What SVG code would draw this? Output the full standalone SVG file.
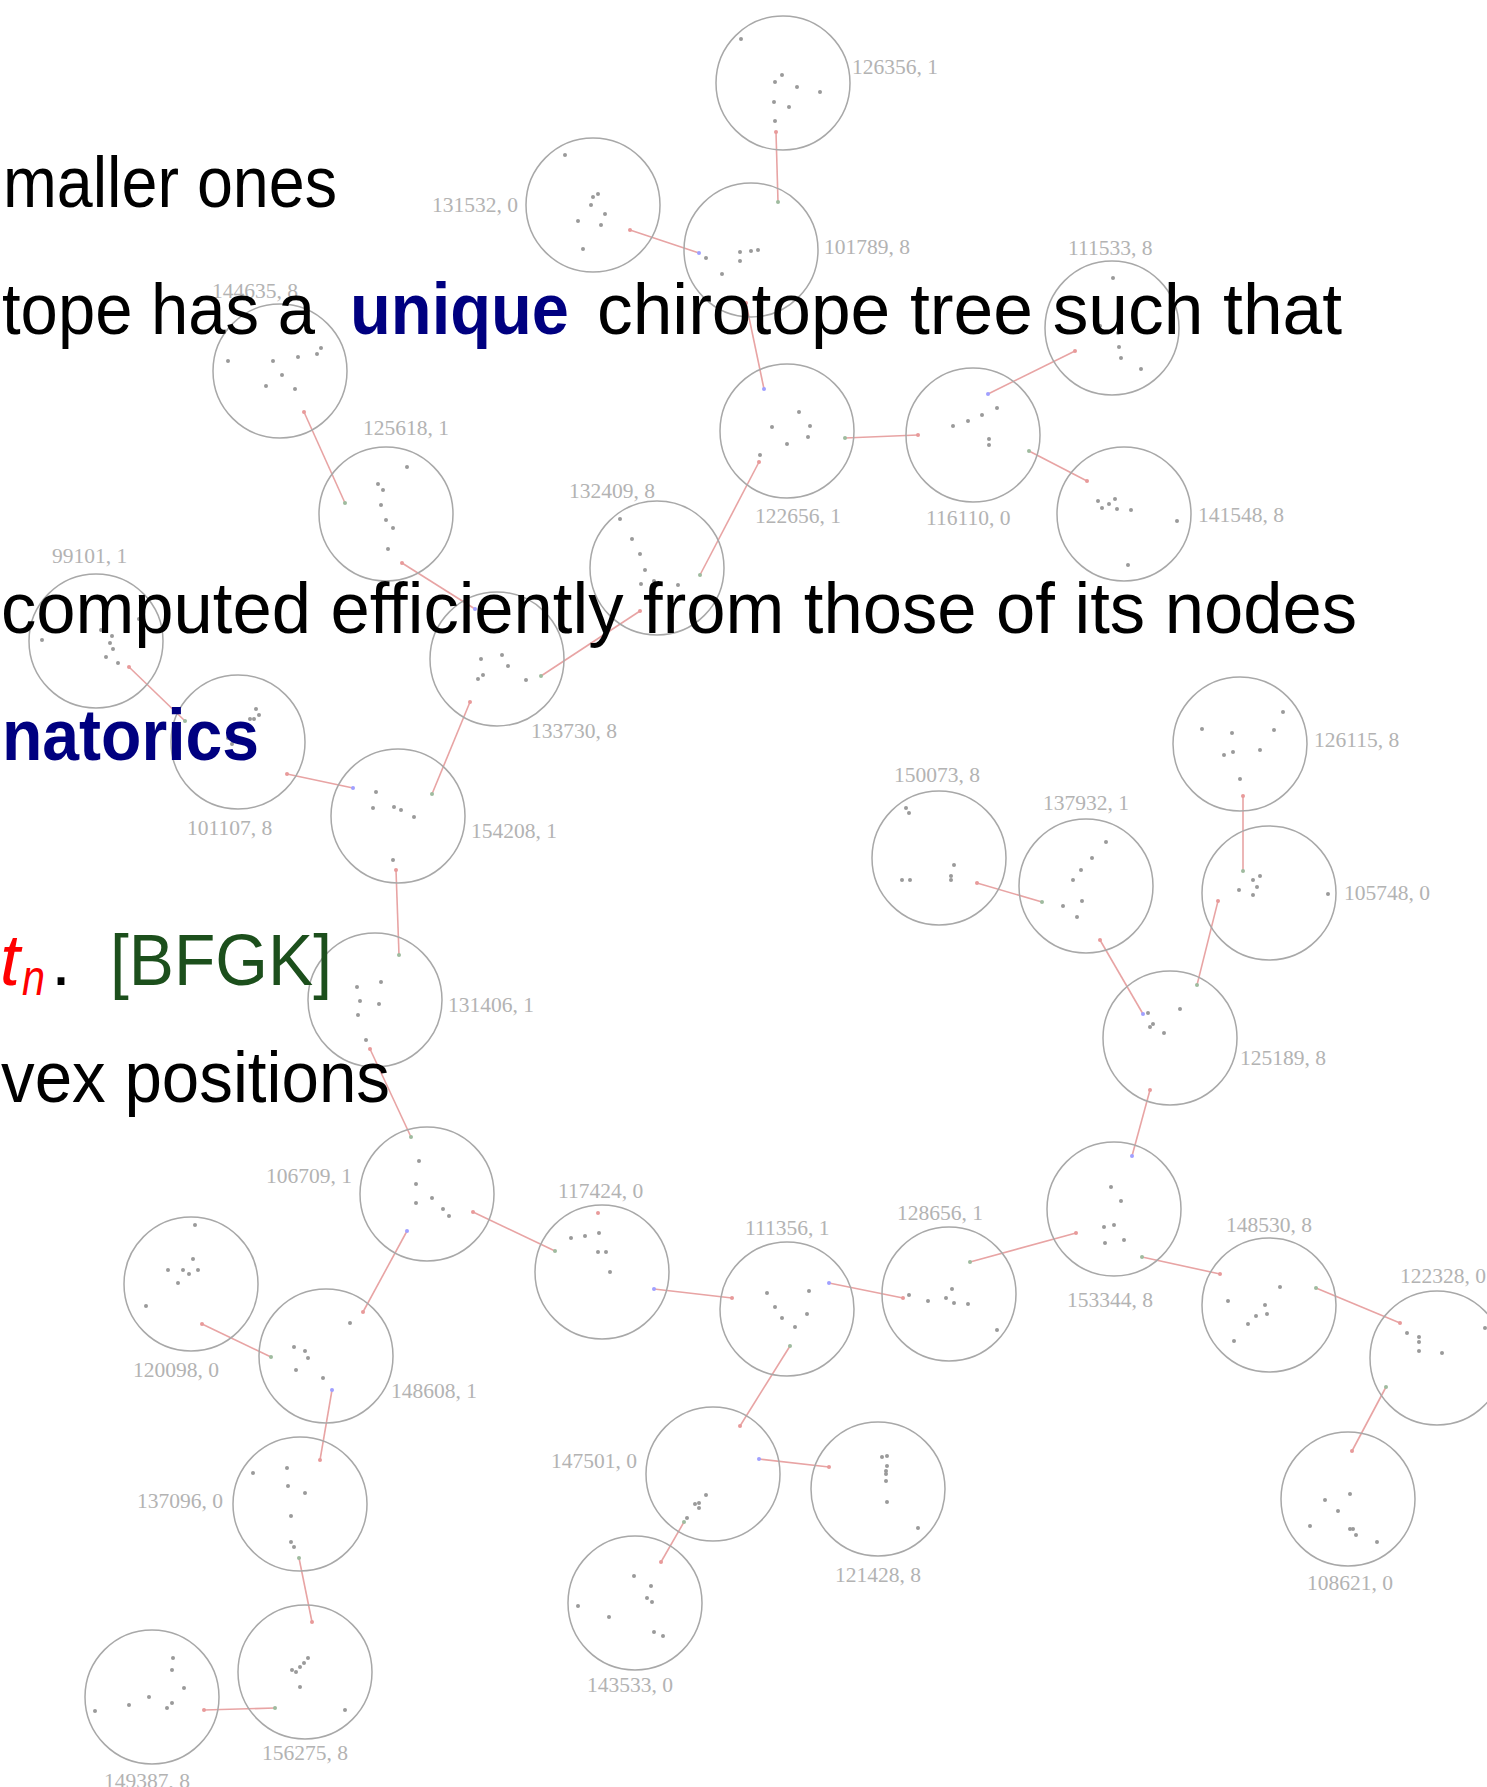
<svg xmlns="http://www.w3.org/2000/svg" width="1487" height="1787" viewBox="0 0 1487 1787">
<style>
.c{fill:none;stroke:#a8a8a8;stroke-width:1.5}
.d{fill:#9a9a9a}
.r{fill:#e89a9a}
.g{fill:#9fbb9f}
.b{fill:#a0a0ff}
.l{font-family:"Liberation Serif",serif;font-size:21.5px;fill:#b3b3b3}
.e line{stroke:#e8a4a4;stroke-width:1.6}
.t{font-family:"Liberation Sans",Arial,sans-serif;font-size:72px;fill:#000}
.bb{font-weight:bold;fill:#000080}
</style>
<rect width="1487" height="1787" fill="#fff"/>
<g id="connectors" class="e">
<line x1="776" y1="132" x2="778" y2="202"/>
<line x1="630" y1="230" x2="699" y2="253"/>
<line x1="746" y1="303" x2="764" y2="389"/>
<line x1="845" y1="438" x2="918" y2="435"/>
<line x1="988" y1="394" x2="1075" y2="351"/>
<line x1="1029" y1="451" x2="1087" y2="481"/>
<line x1="759" y1="462" x2="700" y2="575"/>
<line x1="640" y1="611" x2="541" y2="676"/>
<line x1="475" y1="609" x2="402" y2="563"/>
<line x1="345" y1="503" x2="304" y2="412"/>
<line x1="470" y1="702" x2="432" y2="794"/>
<line x1="353" y1="788" x2="287" y2="774"/>
<line x1="185" y1="721" x2="129" y2="667"/>
<line x1="396" y1="870" x2="399" y2="955"/>
<line x1="370" y1="1049" x2="411" y2="1137"/>
<line x1="473" y1="1212" x2="555" y2="1251"/>
<line x1="407" y1="1231" x2="363" y2="1312"/>
<line x1="271" y1="1357" x2="202" y2="1324"/>
<line x1="332" y1="1390" x2="320" y2="1460"/>
<line x1="299" y1="1558" x2="312" y2="1622"/>
<line x1="275" y1="1708" x2="204" y2="1710"/>
<line x1="654" y1="1289" x2="732" y2="1298"/>
<line x1="829" y1="1283" x2="903" y2="1298"/>
<line x1="790" y1="1346" x2="740" y2="1426"/>
<line x1="759" y1="1459" x2="829" y2="1467"/>
<line x1="684" y1="1522" x2="661" y2="1562"/>
<line x1="970" y1="1262" x2="1076" y2="1233"/>
<line x1="1132" y1="1156" x2="1150" y2="1090"/>
<line x1="1142" y1="1257" x2="1220" y2="1274"/>
<line x1="1316" y1="1288" x2="1400" y2="1323"/>
<line x1="1386" y1="1387" x2="1352" y2="1451"/>
<line x1="1143" y1="1014" x2="1100" y2="940"/>
<line x1="1197" y1="985" x2="1218" y2="901"/>
<line x1="1243" y1="871" x2="1243" y2="796"/>
<line x1="1042" y1="902" x2="977" y2="883"/>
</g>
<g id="n126356"><circle class="c" cx="783" cy="83" r="67"/><text class="l" x="852" y="74">126356, 1</text>
<circle class="d" cx="741" cy="39" r="2"/><circle class="d" cx="782" cy="75" r="2"/><circle class="d" cx="775" cy="82" r="2"/><circle class="d" cx="797" cy="87" r="2"/><circle class="d" cx="820" cy="92" r="2"/><circle class="d" cx="774" cy="102" r="2"/><circle class="d" cx="789" cy="107" r="2"/><circle class="d" cx="775" cy="121" r="2"/><circle class="r" cx="776" cy="132" r="2"/></g>
<g id="n101789"><circle class="c" cx="751" cy="250" r="67"/><text class="l" x="824" y="254">101789, 8</text>
<circle class="d" cx="706" cy="258" r="2"/><circle class="d" cx="740" cy="252" r="2"/><circle class="d" cx="751" cy="251" r="2"/><circle class="d" cx="758" cy="250" r="2"/><circle class="d" cx="740" cy="261" r="2"/><circle class="d" cx="722" cy="274" r="2"/><circle class="g" cx="778" cy="202" r="2"/><circle class="b" cx="699" cy="253" r="2"/><circle class="r" cx="746" cy="303" r="2"/></g>
<g id="n131532"><circle class="c" cx="593" cy="205" r="67"/><text class="l" x="518" y="212" text-anchor="end">131532, 0</text>
<circle class="d" cx="565" cy="155" r="2"/><circle class="d" cx="593" cy="197" r="2"/><circle class="d" cx="598" cy="194" r="2"/><circle class="d" cx="591" cy="205" r="2"/><circle class="d" cx="605" cy="214" r="2"/><circle class="d" cx="578" cy="221" r="2"/><circle class="d" cx="601" cy="225" r="2"/><circle class="d" cx="583" cy="249" r="2"/><circle class="r" cx="630" cy="230" r="2"/></g>
<g id="n111533"><circle class="c" cx="1112" cy="328" r="67"/><text class="l" x="1068" y="255">111533, 8</text>
<circle class="d" cx="1113" cy="278" r="2"/><circle class="d" cx="1100" cy="326" r="2"/><circle class="d" cx="1118" cy="333" r="2"/><circle class="d" cx="1119" cy="347" r="2"/><circle class="d" cx="1121" cy="358" r="2"/><circle class="d" cx="1141" cy="369" r="2"/><circle class="r" cx="1075" cy="351" r="2"/></g>
<g id="n144635"><circle class="c" cx="280" cy="371" r="67"/><text class="l" x="212" y="298">144635, 8</text>
<circle class="d" cx="228" cy="361" r="2"/><circle class="d" cx="273" cy="361" r="2"/><circle class="d" cx="298" cy="357" r="2"/><circle class="d" cx="317" cy="354" r="2"/><circle class="d" cx="321" cy="348" r="2"/><circle class="d" cx="282" cy="375" r="2"/><circle class="d" cx="266" cy="386" r="2"/><circle class="d" cx="295" cy="389" r="2"/><circle class="r" cx="304" cy="412" r="2"/></g>
<g id="n125618"><circle class="c" cx="386" cy="514" r="67"/><text class="l" x="363" y="435">125618, 1</text>
<circle class="d" cx="407" cy="467" r="2"/><circle class="d" cx="378" cy="484" r="2"/><circle class="d" cx="383" cy="490" r="2"/><circle class="d" cx="381" cy="505" r="2"/><circle class="d" cx="386" cy="520" r="2"/><circle class="d" cx="393" cy="528" r="2"/><circle class="d" cx="388" cy="549" r="2"/><circle class="g" cx="345" cy="503" r="2"/><circle class="r" cx="402" cy="563" r="2"/></g>
<g id="n99101"><circle class="c" cx="96" cy="641" r="67"/><text class="l" x="52" y="563">99101, 1</text>
<circle class="d" cx="42" cy="640" r="2"/><circle class="d" cx="101" cy="630" r="2"/><circle class="d" cx="112" cy="636" r="2"/><circle class="d" cx="139" cy="619" r="2"/><circle class="d" cx="110" cy="643" r="2"/><circle class="d" cx="113" cy="649" r="2"/><circle class="d" cx="106" cy="657" r="2"/><circle class="d" cx="118" cy="663" r="2"/><circle class="r" cx="129" cy="667" r="2"/></g>
<g id="n101107"><circle class="c" cx="238" cy="742" r="67"/><text class="l" x="187" y="835">101107, 8</text>
<circle class="d" cx="256" cy="709" r="2"/><circle class="d" cx="259" cy="715" r="2"/><circle class="d" cx="250" cy="719" r="2"/><circle class="d" cx="254" cy="719" r="2"/><circle class="d" cx="235" cy="726" r="2"/><circle class="d" cx="228" cy="738" r="2"/><circle class="d" cx="232" cy="744" r="2"/><circle class="g" cx="185" cy="721" r="2"/><circle class="r" cx="287" cy="774" r="2"/></g>
<g id="n154208"><circle class="c" cx="398" cy="816" r="67"/><text class="l" x="471" y="838">154208, 1</text>
<circle class="d" cx="376" cy="792" r="2"/><circle class="d" cx="373" cy="808" r="2"/><circle class="d" cx="394" cy="807" r="2"/><circle class="d" cx="401" cy="810" r="2"/><circle class="d" cx="414" cy="817" r="2"/><circle class="d" cx="393" cy="860" r="2"/><circle class="b" cx="353" cy="788" r="2"/><circle class="g" cx="432" cy="794" r="2"/><circle class="r" cx="396" cy="870" r="2"/></g>
<g id="n133730"><circle class="c" cx="497" cy="659" r="67"/><text class="l" x="531" y="738">133730, 8</text>
<circle class="d" cx="481" cy="659" r="2"/><circle class="d" cx="483" cy="675" r="2"/><circle class="d" cx="478" cy="679" r="2"/><circle class="d" cx="502" cy="655" r="2"/><circle class="d" cx="508" cy="666" r="2"/><circle class="d" cx="526" cy="680" r="2"/><circle class="b" cx="475" cy="609" r="2"/><circle class="r" cx="470" cy="702" r="2"/><circle class="g" cx="541" cy="676" r="2"/></g>
<g id="n132409"><circle class="c" cx="657" cy="568" r="67"/><text class="l" x="569" y="498">132409, 8</text>
<circle class="d" cx="620" cy="519" r="2"/><circle class="d" cx="632" cy="539" r="2"/><circle class="d" cx="640" cy="554" r="2"/><circle class="d" cx="645" cy="570" r="2"/><circle class="d" cx="641" cy="584" r="2"/><circle class="d" cx="654" cy="581" r="2"/><circle class="d" cx="678" cy="585" r="2"/><circle class="g" cx="700" cy="575" r="2"/><circle class="r" cx="640" cy="611" r="2"/></g>
<g id="n122656"><circle class="c" cx="787" cy="431" r="67"/><text class="l" x="755" y="523">122656, 1</text>
<circle class="d" cx="799" cy="412" r="2"/><circle class="d" cx="772" cy="427" r="2"/><circle class="d" cx="810" cy="426" r="2"/><circle class="d" cx="808" cy="437" r="2"/><circle class="d" cx="787" cy="444" r="2"/><circle class="d" cx="760" cy="455" r="2"/><circle class="b" cx="764" cy="389" r="2"/><circle class="g" cx="845" cy="438" r="2"/><circle class="r" cx="759" cy="462" r="2"/></g>
<g id="n116110"><circle class="c" cx="973" cy="435" r="67"/><text class="l" x="926" y="525">116110, 0</text>
<circle class="d" cx="982" cy="415" r="2"/><circle class="d" cx="968" cy="421" r="2"/><circle class="d" cx="953" cy="426" r="2"/><circle class="d" cx="989" cy="439" r="2"/><circle class="d" cx="989" cy="445" r="2"/><circle class="d" cx="997" cy="408" r="2"/><circle class="b" cx="988" cy="394" r="2"/><circle class="r" cx="918" cy="435" r="2"/><circle class="g" cx="1029" cy="451" r="2"/></g>
<g id="n141548"><circle class="c" cx="1124" cy="514" r="67"/><text class="l" x="1198" y="522">141548, 8</text>
<circle class="d" cx="1098" cy="501" r="2"/><circle class="d" cx="1102" cy="508" r="2"/><circle class="d" cx="1109" cy="504" r="2"/><circle class="d" cx="1115" cy="499" r="2"/><circle class="d" cx="1117" cy="509" r="2"/><circle class="d" cx="1131" cy="510" r="2"/><circle class="d" cx="1177" cy="521" r="2"/><circle class="d" cx="1128" cy="565" r="2"/><circle class="r" cx="1087" cy="481" r="2"/></g>
<g id="n126115"><circle class="c" cx="1240" cy="744" r="67"/><text class="l" x="1314" y="747">126115, 8</text>
<circle class="d" cx="1283" cy="712" r="2"/><circle class="d" cx="1202" cy="729" r="2"/><circle class="d" cx="1232" cy="733" r="2"/><circle class="d" cx="1274" cy="730" r="2"/><circle class="d" cx="1260" cy="750" r="2"/><circle class="d" cx="1224" cy="755" r="2"/><circle class="d" cx="1233" cy="752" r="2"/><circle class="d" cx="1240" cy="779" r="2"/><circle class="r" cx="1243" cy="796" r="2"/></g>
<g id="n105748"><circle class="c" cx="1269" cy="893" r="67"/><text class="l" x="1344" y="900">105748, 0</text>
<circle class="d" cx="1253" cy="880" r="2"/><circle class="d" cx="1260" cy="876" r="2"/><circle class="d" cx="1239" cy="890" r="2"/><circle class="d" cx="1257" cy="887" r="2"/><circle class="d" cx="1253" cy="895" r="2"/><circle class="d" cx="1328" cy="894" r="2"/><circle class="g" cx="1243" cy="871" r="2"/><circle class="r" cx="1218" cy="901" r="2"/></g>
<g id="n137932"><circle class="c" cx="1086" cy="886" r="67"/><text class="l" x="1043" y="810">137932, 1</text>
<circle class="d" cx="1106" cy="842" r="2"/><circle class="d" cx="1092" cy="858" r="2"/><circle class="d" cx="1081" cy="870" r="2"/><circle class="d" cx="1073" cy="880" r="2"/><circle class="d" cx="1082" cy="901" r="2"/><circle class="d" cx="1063" cy="906" r="2"/><circle class="d" cx="1077" cy="917" r="2"/><circle class="g" cx="1042" cy="902" r="2"/><circle class="r" cx="1100" cy="940" r="2"/></g>
<g id="n150073"><circle class="c" cx="939" cy="858" r="67"/><text class="l" x="894" y="782">150073, 8</text>
<circle class="d" cx="906" cy="808" r="2"/><circle class="d" cx="909" cy="813" r="2"/><circle class="d" cx="902" cy="880" r="2"/><circle class="d" cx="910" cy="880" r="2"/><circle class="d" cx="954" cy="865" r="2"/><circle class="d" cx="951" cy="876" r="2"/><circle class="d" cx="951" cy="880" r="2"/><circle class="r" cx="977" cy="883" r="2"/></g>
<g id="n125189"><circle class="c" cx="1170" cy="1038" r="67"/><text class="l" x="1240" y="1065">125189, 8</text>
<circle class="d" cx="1148" cy="1013" r="2"/><circle class="d" cx="1180" cy="1009" r="2"/><circle class="d" cx="1150" cy="1027" r="2"/><circle class="d" cx="1153" cy="1024" r="2"/><circle class="d" cx="1164" cy="1033" r="2"/><circle class="b" cx="1143" cy="1014" r="2"/><circle class="g" cx="1197" cy="985" r="2"/><circle class="r" cx="1150" cy="1090" r="2"/></g>
<g id="n153344"><circle class="c" cx="1114" cy="1209" r="67"/><text class="l" x="1067" y="1307">153344, 8</text>
<circle class="d" cx="1111" cy="1187" r="2"/><circle class="d" cx="1121" cy="1201" r="2"/><circle class="d" cx="1104" cy="1227" r="2"/><circle class="d" cx="1114" cy="1225" r="2"/><circle class="d" cx="1105" cy="1243" r="2"/><circle class="d" cx="1124" cy="1240" r="2"/><circle class="b" cx="1132" cy="1156" r="2"/><circle class="r" cx="1076" cy="1233" r="2"/><circle class="g" cx="1142" cy="1257" r="2"/></g>
<g id="n148530"><circle class="c" cx="1269" cy="1305" r="67"/><text class="l" x="1226" y="1232">148530, 8</text>
<circle class="d" cx="1280" cy="1287" r="2"/><circle class="d" cx="1228" cy="1301" r="2"/><circle class="d" cx="1265" cy="1305" r="2"/><circle class="d" cx="1267" cy="1314" r="2"/><circle class="d" cx="1256" cy="1316" r="2"/><circle class="d" cx="1248" cy="1324" r="2"/><circle class="d" cx="1234" cy="1341" r="2"/><circle class="r" cx="1220" cy="1274" r="2"/><circle class="g" cx="1316" cy="1288" r="2"/></g>
<g id="n122328"><circle class="c" cx="1437" cy="1358" r="67"/><text class="l" x="1400" y="1283">122328, 0</text>
<circle class="d" cx="1407" cy="1333" r="2"/><circle class="d" cx="1419" cy="1337" r="2"/><circle class="d" cx="1419" cy="1342" r="2"/><circle class="d" cx="1419" cy="1351" r="2"/><circle class="d" cx="1442" cy="1353" r="2"/><circle class="d" cx="1485" cy="1328" r="2"/><circle class="r" cx="1400" cy="1323" r="2"/><circle class="g" cx="1386" cy="1387" r="2"/></g>
<g id="n108621"><circle class="c" cx="1348" cy="1499" r="67"/><text class="l" x="1307" y="1590">108621, 0</text>
<circle class="d" cx="1350" cy="1494" r="2"/><circle class="d" cx="1325" cy="1500" r="2"/><circle class="d" cx="1338" cy="1511" r="2"/><circle class="d" cx="1310" cy="1526" r="2"/><circle class="d" cx="1350" cy="1529" r="2"/><circle class="d" cx="1353" cy="1529" r="2"/><circle class="d" cx="1356" cy="1535" r="2"/><circle class="d" cx="1377" cy="1542" r="2"/><circle class="r" cx="1352" cy="1451" r="2"/></g>
<g id="n128656"><circle class="c" cx="949" cy="1294" r="67"/><text class="l" x="897" y="1220">128656, 1</text>
<circle class="d" cx="909" cy="1295" r="2"/><circle class="d" cx="928" cy="1301" r="2"/><circle class="d" cx="946" cy="1298" r="2"/><circle class="d" cx="952" cy="1289" r="2"/><circle class="d" cx="954" cy="1303" r="2"/><circle class="d" cx="968" cy="1304" r="2"/><circle class="d" cx="997" cy="1330" r="2"/><circle class="g" cx="970" cy="1262" r="2"/><circle class="r" cx="903" cy="1298" r="2"/></g>
<g id="n111356"><circle class="c" cx="787" cy="1309" r="67"/><text class="l" x="745" y="1235">111356, 1</text>
<circle class="d" cx="767" cy="1293" r="2"/><circle class="d" cx="809" cy="1291" r="2"/><circle class="d" cx="775" cy="1307" r="2"/><circle class="d" cx="782" cy="1318" r="2"/><circle class="d" cx="807" cy="1314" r="2"/><circle class="d" cx="795" cy="1327" r="2"/><circle class="b" cx="829" cy="1283" r="2"/><circle class="r" cx="732" cy="1298" r="2"/><circle class="g" cx="790" cy="1346" r="2"/></g>
<g id="n117424"><circle class="c" cx="602" cy="1272" r="67"/><text class="l" x="558" y="1198">117424, 0</text>
<circle class="d" cx="571" cy="1238" r="2"/><circle class="d" cx="585" cy="1236" r="2"/><circle class="d" cx="599" cy="1233" r="2"/><circle class="d" cx="598" cy="1252" r="2"/><circle class="d" cx="606" cy="1252" r="2"/><circle class="d" cx="610" cy="1272" r="2"/><circle class="r" cx="598" cy="1213" r="2"/><circle class="g" cx="555" cy="1251" r="2"/><circle class="b" cx="654" cy="1289" r="2"/></g>
<g id="n106709"><circle class="c" cx="427" cy="1194" r="67"/><text class="l" x="266" y="1183">106709, 1</text>
<circle class="d" cx="419" cy="1161" r="2"/><circle class="d" cx="416" cy="1184" r="2"/><circle class="d" cx="432" cy="1198" r="2"/><circle class="d" cx="416" cy="1203" r="2"/><circle class="d" cx="443" cy="1209" r="2"/><circle class="d" cx="449" cy="1216" r="2"/><circle class="g" cx="411" cy="1137" r="2"/><circle class="r" cx="473" cy="1212" r="2"/><circle class="b" cx="407" cy="1231" r="2"/></g>
<g id="n131406"><circle class="c" cx="375" cy="1000" r="67"/><text class="l" x="448" y="1012">131406, 1</text>
<circle class="d" cx="357" cy="987" r="2"/><circle class="d" cx="381" cy="982" r="2"/><circle class="d" cx="360" cy="1001" r="2"/><circle class="d" cx="379" cy="1004" r="2"/><circle class="d" cx="358" cy="1015" r="2"/><circle class="d" cx="325" cy="993" r="2"/><circle class="d" cx="366" cy="1040" r="2"/><circle class="g" cx="399" cy="955" r="2"/><circle class="r" cx="370" cy="1049" r="2"/></g>
<g id="n120098"><circle class="c" cx="191" cy="1284" r="67"/><text class="l" x="133" y="1377">120098, 0</text>
<circle class="d" cx="195" cy="1225" r="2"/><circle class="d" cx="193" cy="1259" r="2"/><circle class="d" cx="168" cy="1270" r="2"/><circle class="d" cx="183" cy="1270" r="2"/><circle class="d" cx="189" cy="1274" r="2"/><circle class="d" cx="198" cy="1270" r="2"/><circle class="d" cx="178" cy="1283" r="2"/><circle class="d" cx="146" cy="1306" r="2"/><circle class="r" cx="202" cy="1324" r="2"/></g>
<g id="n148608"><circle class="c" cx="326" cy="1356" r="67"/><text class="l" x="391" y="1398">148608, 1</text>
<circle class="d" cx="350" cy="1323" r="2"/><circle class="d" cx="294" cy="1347" r="2"/><circle class="d" cx="305" cy="1351" r="2"/><circle class="d" cx="308" cy="1358" r="2"/><circle class="d" cx="296" cy="1370" r="2"/><circle class="d" cx="323" cy="1378" r="2"/><circle class="r" cx="363" cy="1312" r="2"/><circle class="g" cx="271" cy="1357" r="2"/><circle class="b" cx="332" cy="1390" r="2"/></g>
<g id="n137096"><circle class="c" cx="300" cy="1504" r="67"/><text class="l" x="137" y="1508">137096, 0</text>
<circle class="d" cx="253" cy="1473" r="2"/><circle class="d" cx="287" cy="1468" r="2"/><circle class="d" cx="288" cy="1486" r="2"/><circle class="d" cx="305" cy="1493" r="2"/><circle class="d" cx="291" cy="1516" r="2"/><circle class="d" cx="291" cy="1542" r="2"/><circle class="d" cx="294" cy="1547" r="2"/><circle class="r" cx="320" cy="1460" r="2"/><circle class="g" cx="299" cy="1558" r="2"/></g>
<g id="n156275"><circle class="c" cx="305" cy="1672" r="67"/><text class="l" x="262" y="1760">156275, 8</text>
<circle class="d" cx="308" cy="1658" r="2"/><circle class="d" cx="304" cy="1663" r="2"/><circle class="d" cx="300" cy="1667" r="2"/><circle class="d" cx="292" cy="1670" r="2"/><circle class="d" cx="296" cy="1672" r="2"/><circle class="d" cx="300" cy="1687" r="2"/><circle class="d" cx="345" cy="1710" r="2"/><circle class="r" cx="312" cy="1622" r="2"/><circle class="g" cx="275" cy="1708" r="2"/></g>
<g id="n149387"><circle class="c" cx="152" cy="1697" r="67"/><text class="l" x="104" y="1788">149387, 8</text>
<circle class="d" cx="173" cy="1658" r="2"/><circle class="d" cx="172" cy="1670" r="2"/><circle class="d" cx="184" cy="1688" r="2"/><circle class="d" cx="149" cy="1697" r="2"/><circle class="d" cx="129" cy="1705" r="2"/><circle class="d" cx="172" cy="1703" r="2"/><circle class="d" cx="167" cy="1708" r="2"/><circle class="d" cx="95" cy="1711" r="2"/><circle class="r" cx="204" cy="1710" r="2"/></g>
<g id="n147501"><circle class="c" cx="713" cy="1474" r="67"/><text class="l" x="551" y="1468">147501, 0</text>
<circle class="d" cx="706" cy="1495" r="2"/><circle class="d" cx="695" cy="1504" r="2"/><circle class="d" cx="699" cy="1503" r="2"/><circle class="d" cx="699" cy="1508" r="2"/><circle class="d" cx="687" cy="1518" r="2"/><circle class="r" cx="740" cy="1426" r="2"/><circle class="b" cx="759" cy="1459" r="2"/><circle class="g" cx="684" cy="1522" r="2"/></g>
<g id="n121428"><circle class="c" cx="878" cy="1489" r="67"/><text class="l" x="835" y="1582">121428, 8</text>
<circle class="d" cx="882" cy="1457" r="2"/><circle class="d" cx="887" cy="1456" r="2"/><circle class="d" cx="887" cy="1466" r="2"/><circle class="d" cx="886" cy="1471" r="2"/><circle class="d" cx="886" cy="1474" r="2"/><circle class="d" cx="886" cy="1481" r="2"/><circle class="d" cx="887" cy="1502" r="2"/><circle class="d" cx="918" cy="1528" r="2"/><circle class="r" cx="829" cy="1467" r="2"/></g>
<g id="n143533"><circle class="c" cx="635" cy="1603" r="67"/><text class="l" x="587" y="1692">143533, 0</text>
<circle class="d" cx="634" cy="1576" r="2"/><circle class="d" cx="651" cy="1586" r="2"/><circle class="d" cx="647" cy="1598" r="2"/><circle class="d" cx="652" cy="1602" r="2"/><circle class="d" cx="578" cy="1606" r="2"/><circle class="d" cx="609" cy="1617" r="2"/><circle class="d" cx="654" cy="1632" r="2"/><circle class="d" cx="663" cy="1636" r="2"/><circle class="r" cx="661" cy="1562" r="2"/></g>
<g id="text">
<text class="t" x="3" y="207" textLength="334" lengthAdjust="spacingAndGlyphs">maller ones</text>
<text class="t" x="2" y="334" textLength="313" lengthAdjust="spacingAndGlyphs">tope has a</text>
<text class="t bb" x="350" y="334" textLength="219" lengthAdjust="spacingAndGlyphs">unique</text>
<text class="t" x="597" y="334" textLength="745" lengthAdjust="spacingAndGlyphs">chirotope tree such that</text>
<text class="t" x="1" y="633" textLength="1356" lengthAdjust="spacingAndGlyphs">computed efficiently from those of its nodes</text>
<text class="t bb" x="2" y="760" textLength="257" lengthAdjust="spacingAndGlyphs">natorics</text>
<text class="t" x="0" y="985" style="font-style:italic;fill:#ff0000" textLength="20" lengthAdjust="spacingAndGlyphs">t</text>
<text class="t" x="22" y="995" style="font-style:italic;fill:#ff0000;font-size:50px" textLength="23" lengthAdjust="spacingAndGlyphs">n</text>
<text class="t" x="51" y="985">.</text>
<text class="t" x="110" y="985" style="fill:#1c4f1c" textLength="222" lengthAdjust="spacingAndGlyphs">[BFGK]</text>
<text class="t" x="1" y="1102" textLength="389" lengthAdjust="spacingAndGlyphs">vex positions</text>
</g>
</svg>
